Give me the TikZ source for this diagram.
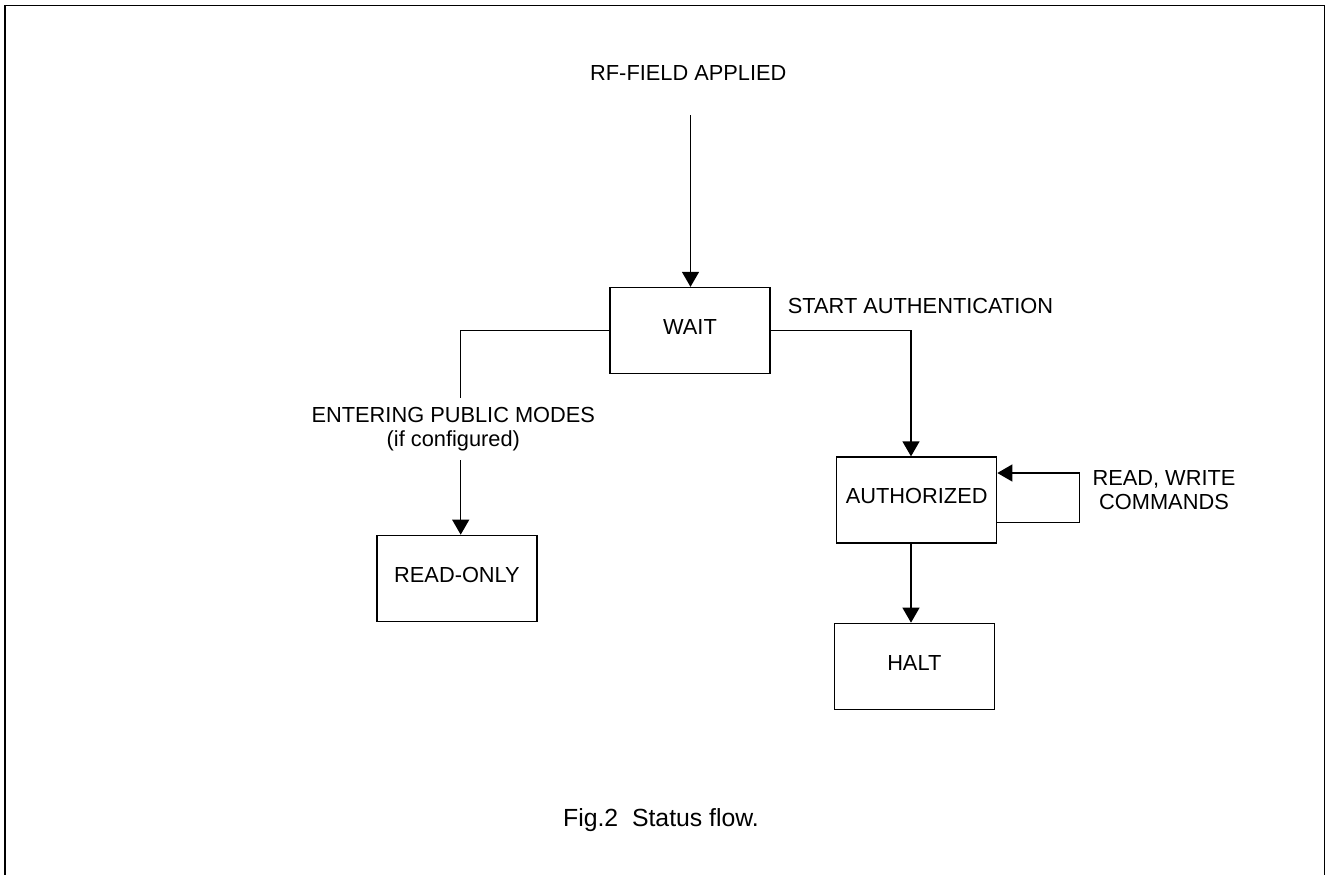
\documentclass[tikz,border=0pt]{standalone}
\usepackage{fontspec}
\setmainfont{Liberation Sans}
\usetikzlibrary{arrows.meta}
\begin{document}
\begin{tikzpicture}[x=1pt,y=-1pt,
  every node/.style={font=\fontsize{21.8}{23.6}\selectfont},
  state/.style={draw, line width=1.3pt, minimum width=160pt, minimum height=86pt, inner sep=0pt, text height=16pt, text depth=8.3pt},
  lbl/.style={inner sep=0pt, anchor=base, align=center},
  arr/.style={line width=1.3pt, -{Triangle[length=15pt,width=17pt]}},
  conn/.style={line width=1.3pt}]
\useasboundingbox (0,0) rectangle (1326,875);
\draw[line width=1.6pt] (5,875) -- (5,5.5) -- (1324.5,5.5) -- (1324.5,875);

\node[state] (wait) at (690,330.5) {WAIT};
\node[state] (auth) at (916.7,500) {AUTHORIZED};
\node[state] (halt) at (914.3,666.3) {HALT};
\node[state] (ro) at (457,578.3) {READ-ONLY};

\node[lbl] (rf) at (688.3,80.7) {RF-FIELD APPLIED};
\node[lbl] (start) at (920.5,313.3) {START AUTHENTICATION};
\node[lbl] (ent) at (453.3,446) {ENTERING PUBLIC MODES\\(if configured)};
\node[lbl] (rw) at (1164,509.3) {READ, WRITE\\COMMANDS};
\node[lbl, font=\fontsize{24.8}{28}\selectfont] (fig) at (661,826.5) {Fig.2\ \ Status flow.};

\coordinate (rfend) at (690.5,115);
\coordinate (e1) at (460.7,398);
\coordinate (e2) at (460.7,460);

\draw[arr] (rfend) -- (rfend |- wait.north);
\draw[arr] (wait.east) -| ([xshift=-5.7pt]auth.north);
\draw[conn] (wait.west) -| (e1);
\draw[arr] (e2) -- (e2 |- ro.north);
\draw[arr] ([xshift=-5.7pt]auth.south) -- ([xshift=-5.7pt]auth.south |- halt.north);
\draw[arr] ([yshift=-22.7pt]auth.east) -- ++(82.3,0) |- ([yshift=27pt]auth.east);
\end{tikzpicture}
\end{document}
